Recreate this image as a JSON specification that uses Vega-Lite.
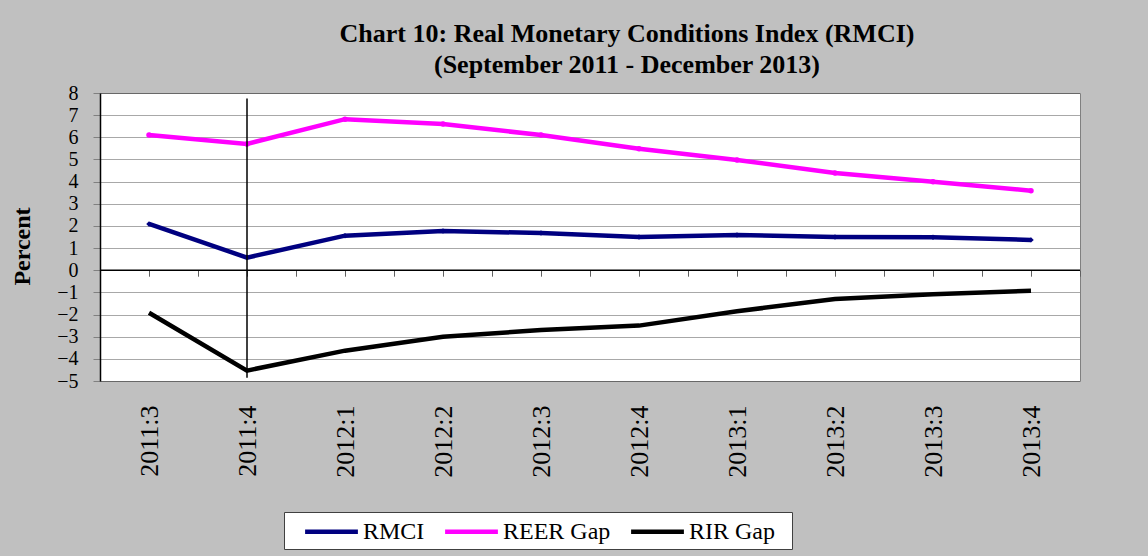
{
  "$schema": "https://vega.github.io/schema/vega-lite/v6.json",
  "width": 980,
  "height": 288,
  "autosize": {"type": "none"},
  "padding": {"left": 100, "top": 93, "right": 68, "bottom": 175},
  "background": "#c0c0c0",
  "config": {
    "font": "Liberation Serif",
    "view": {"fill": "white", "stroke": "#808080", "strokeWidth": 1},
    "axisY": {"labelOverlap": false, "labelBound": false}
  },
  "title": {
    "text": ["Chart 10: Real Monetary Conditions Index (RMCI)", "(September 2011 - December 2013)"],
    "font": "Liberation Serif",
    "fontSize": 26,
    "fontWeight": "bold",
    "color": "black",
    "anchor": "middle",
    "dx": 37,
    "offset": 5,
    "lineHeight": 31
  },
  "datasets": {
    "series": [
      {"q": "2011:3", "series": "RMCI", "value": 2.09},
      {"q": "2011:4", "series": "RMCI", "value": 0.57},
      {"q": "2012:1", "series": "RMCI", "value": 1.56},
      {"q": "2012:2", "series": "RMCI", "value": 1.77},
      {"q": "2012:3", "series": "RMCI", "value": 1.68},
      {"q": "2012:4", "series": "RMCI", "value": 1.5},
      {"q": "2013:1", "series": "RMCI", "value": 1.59},
      {"q": "2013:2", "series": "RMCI", "value": 1.5},
      {"q": "2013:3", "series": "RMCI", "value": 1.49},
      {"q": "2013:4", "series": "RMCI", "value": 1.37},
      {"q": "2011:3", "series": "REER Gap", "value": 6.1},
      {"q": "2011:4", "series": "REER Gap", "value": 5.7},
      {"q": "2012:1", "series": "REER Gap", "value": 6.82},
      {"q": "2012:2", "series": "REER Gap", "value": 6.6},
      {"q": "2012:3", "series": "REER Gap", "value": 6.1},
      {"q": "2012:4", "series": "REER Gap", "value": 5.48},
      {"q": "2013:1", "series": "REER Gap", "value": 4.98},
      {"q": "2013:2", "series": "REER Gap", "value": 4.39},
      {"q": "2013:3", "series": "REER Gap", "value": 3.99},
      {"q": "2013:4", "series": "REER Gap", "value": 3.59},
      {"q": "2011:3", "series": "RIR Gap", "value": -1.92},
      {"q": "2011:4", "series": "RIR Gap", "value": -4.53},
      {"q": "2012:1", "series": "RIR Gap", "value": -3.63},
      {"q": "2012:2", "series": "RIR Gap", "value": -3.0},
      {"q": "2012:3", "series": "RIR Gap", "value": -2.7},
      {"q": "2012:4", "series": "RIR Gap", "value": -2.5},
      {"q": "2013:1", "series": "RIR Gap", "value": -1.85},
      {"q": "2013:2", "series": "RIR Gap", "value": -1.3},
      {"q": "2013:3", "series": "RIR Gap", "value": -1.08},
      {"q": "2013:4", "series": "RIR Gap", "value": -0.93}
    ],
    "vline": [{"q": "2011:4", "top": 7.75, "bottom": -4.85}],
    "zero": [{"a": 0, "b": 20, "v": 0}]
  },
  "layer": [
    {
      "layer": [
        {
          "data": {"name": "series"},
          "mark": {"type": "line", "strokeWidth": 4.5},
          "encoding": {
            "x": {
              "field": "q",
              "type": "ordinal",
              "scale": {"type": "point", "padding": 0.5, "domain": ["2011:3", "2011:4", "2012:1", "2012:2", "2012:3", "2012:4", "2013:1", "2013:2", "2013:3", "2013:4"]},
              "axis": {
                "orient": "bottom",
                "title": null,
                "labelAngle": 270,
                "labelFontSize": 26,
                "labelColor": "black",
                "labelPadding": 24,
                "domain": false,
                "ticks": false,
                "grid": false
              }
            },
            "y": {
              "field": "value",
              "type": "quantitative",
              "scale": {"domain": [-5, 8], "nice": false, "zero": false},
              "axis": {
                "title": "Percent",
                "titleFontSize": 24,
                "titleFontWeight": "bold",
                "titleColor": "black",
                "titlePadding": 22,
                "titleY": 153,
                "values": [-5, -4, -3, -2, -1, 0, 1, 2, 3, 4, 5, 6, 7, 8],
                "tickCount": 20,
                "format": "d",
                "labelOverlap": false,
                "labelFontSize": 20,
                "labelColor": "black",
                "labelPadding": 15,
                "tickSize": 7,
                "tickColor": "#808080",
                "domainColor": "black",
                "domainWidth": 1.5,
                "grid": true,
                "gridColor": "#505050",
                "gridDash": [1, 1],
                "gridWidth": 1
              }
            },
            "color": {
              "field": "series",
              "type": "nominal",
              "scale": {"domain": ["RMCI", "REER Gap", "RIR Gap"], "range": ["#000080", "#ff00ff", "#000000"]},
              "legend": {
                "title": " ",
                "titleOrient": "right",
                "titleFontSize": 2,
                "titlePadding": 12,
                "orient": "none",
                "legendX": 184,
                "legendY": 419,
                "direction": "horizontal",
                "fillColor": "white",
                "strokeColor": "#404040",
                "padding": 5,
                "symbolType": "M-2.2,0H2.2",
                "symbolSize": 576,
                "symbolStrokeWidth": 4.5,
                "symbolOffset": 28,
                "labelFontSize": 24,
                "labelFont": "Liberation Serif",
                "labelColor": "black",
                "labelOffset": 17,
                "columnPadding": 4,
                "labelLimit": 300
              }
            }
          }
        },
        {
          "data": {"name": "series"},
          "transform": [{"filter": "datum.series !== 'RIR Gap'"}],
          "mark": {"type": "point", "filled": true, "size": 30, "opacity": 1},
          "encoding": {
            "x": {"field": "q", "type": "ordinal"},
            "y": {"field": "value", "type": "quantitative"},
            "color": {"field": "series", "type": "nominal"},
            "shape": {
              "field": "series",
              "type": "nominal",
              "scale": {"domain": ["RMCI", "REER Gap"], "range": ["diamond", "circle"]},
              "legend": null
            }
          }
        },
        {
          "data": {"name": "vline"},
          "mark": {"type": "rule", "color": "black", "strokeWidth": 1.5},
          "encoding": {
            "x": {"field": "q", "type": "ordinal"},
            "y": {"field": "top", "type": "quantitative"},
            "y2": {"field": "bottom"}
          }
        }
      ]
    },
    {
      "data": {"name": "zero"},
      "mark": {"type": "rule", "color": "black", "strokeWidth": 1.5},
      "encoding": {
        "x": {
          "field": "a",
          "type": "quantitative",
          "scale": {"domain": [0, 20], "nice": false, "zero": false},
          "axis": {
            "orient": "bottom",
            "offset": -110.8,
            "values": [0, 1, 2, 3, 4, 5, 6, 7, 8, 9, 10, 11, 12, 13, 14, 15, 16, 17, 18, 19, 20],
            "tickCount": 30,
            "labels": false,
            "domain": false,
            "grid": false,
            "tickSize": 6,
            "tickColor": "#606060",
            "title": null
          }
        },
        "x2": {"field": "b"},
        "y": {"field": "v", "type": "quantitative"}
      }
    }
  ],
  "resolve": {"scale": {"x": "independent"}, "axis": {"x": "independent"}}
}
